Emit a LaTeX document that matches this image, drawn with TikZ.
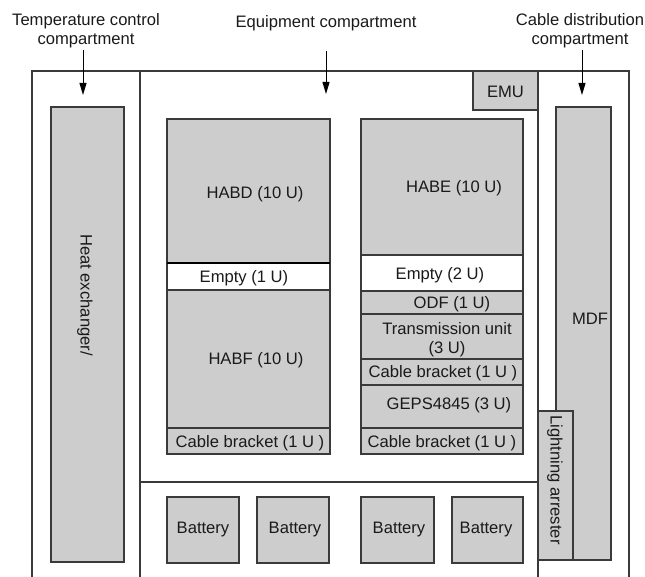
\documentclass[tikz,border=0pt]{standalone}
\usepackage{fontspec}
\setmainfont{Liberation Sans}
\usetikzlibrary{arrows.meta,fit}
\definecolor{boxfill}{HTML}{CDCDCD}
\definecolor{edge}{HTML}{3A3A3A}
\definecolor{ink}{HTML}{1A1A1A}
\begin{document}
\begin{tikzpicture}[x=1pt,y=-1pt,
  frameline/.style={draw=edge,line width=1.1pt},
  gbox/.style={draw=edge,fill=boxfill,line width=1.1pt,inner sep=0pt,outer sep=0pt},
  wbox/.style={draw=edge,fill=white,line width=1.1pt,inner sep=0pt,outer sep=0pt},
  lbl/.style={inner sep=0pt,text=ink,font=\fontsize{16.6}{19}\selectfont,align=center},
  hlbl/.style={lbl,yshift=-2pt},
  arr/.style={draw=black,line width=1pt,-{Triangle[length=12pt,width=7pt]}}]
\useasboundingbox (0,0) rectangle (645,577);

% cabinet outline and compartment dividers (open at the bottom)
\coordinate (fTL) at (32,71);
\coordinate (fTR) at (629,71);
\coordinate (fBL) at (32,577);
\coordinate (fBR) at (629,577);
\coordinate (d1T) at (140,71);
\coordinate (d1B) at (140,577);
\coordinate (d2T) at (538,71);
\coordinate (d2B) at (538,577);
\draw[frameline] (fBL) -- (fTL) -- (fTR) -- (fBR);
\draw[frameline] (d1T) -- (d1B);
\draw[frameline] (d2T) -- (d2B);
\coordinate (shL) at (140,482);
\coordinate (shR) at (538,482);
\draw[frameline] (shL) -- (shR);

% compartment titles with arrows
\node[hlbl] (tcc) at (86,29) {Temperature control\\compartment};
\node[hlbl] (eqc) at (326,21) {Equipment compartment};
\node[hlbl] (cdc) at (580,29) {Cable distribution\\compartment};
\coordinate (tccA) at (83,50);  \coordinate (tccB) at (83,95);
\coordinate (eqcA) at (326,51); \coordinate (eqcB) at (326,94);
\coordinate (cdcA) at (582,50); \coordinate (cdcB) at (582,95);
\draw[arr] (tccA) -- (tccB);
\draw[arr] (eqcA) -- (eqcB);
\draw[arr] (cdcA) -- (cdcB);

% temperature control compartment
\node[gbox,fit={(51,107) (124,562)}] (hex) {};
\node[lbl,rotate=-90] (hexT) at (85,295) {Heat exchanger/};

% EMU
\node[gbox,fit={(473,71) (538,110)}] (emu) {};
\node[hlbl] (emuT) at (505.5,90) {EMU};

% left rack
\node[gbox,fit={(167,119) (330,263)}] (habd) {};
\node[wbox,fit={(167,263) (330,290)}] (emp1) {};
\node[gbox,fit={(167,290) (330,428)}] (habf) {};
\node[gbox,fit={(167,428) (330,454)}] (cbl1) {};
\draw[line width=2pt,black] (habd.south west) -- (habd.south east);
\node[hlbl] (habdT) at (255,192) {HABD (10 U)};
\node[hlbl] (emp1T) at (244,276) {Empty (1 U)};
\node[hlbl] (habfT) at (256,358) {HABF (10 U)};
\node[hlbl] (cbl1T) at (250,441) {Cable bracket (1 U )};

% right rack
\node[gbox,fit={(361,119) (523,255)}] (habe) {};
\node[wbox,fit={(361,255) (523,291)}] (emp2) {};
\node[gbox,fit={(361,291) (523,314)}] (odf) {};
\node[gbox,fit={(361,314) (523,359)}] (trn) {};
\node[gbox,fit={(361,359) (523,385)}] (cbl2) {};
\node[gbox,fit={(361,385) (523,428)}] (geps) {};
\node[gbox,fit={(361,428) (523,454)}] (cbl3) {};
\node[hlbl] (habeT) at (454,186) {HABE (10 U)};
\node[hlbl] (emp2T) at (440,273) {Empty (2 U)};
\node[hlbl] (odfT) at (452,302) {ODF (1 U)};
\node[hlbl] (trnT) at (447,338) {Transmission unit\\(3 U)};
\node[hlbl] (cbl2T) at (443,371) {Cable bracket (1 U )};
\node[hlbl] (gepsT) at (449,403) {GEPS4845 (3 U)};
\node[hlbl] (cbl3T) at (442,441) {Cable bracket (1 U )};

% batteries
\node[gbox,fit={(167,497) (239,563)}] (bat1) {};
\node[gbox,fit={(257,497) (329,563)}] (bat2) {};
\node[gbox,fit={(361,497) (434,563)}] (bat3) {};
\node[gbox,fit={(452,497) (523,563)}] (bat4) {};
\node[hlbl] (bat1T) at (203,528) {Battery};
\node[hlbl] (bat2T) at (295,528) {Battery};
\node[hlbl] (bat3T) at (399,528) {Battery};
\node[hlbl] (bat4T) at (486,528) {Battery};

% cable distribution compartment
\node[gbox,fit={(556,107) (611,560)}] (mdf) {};
\node[hlbl] (mdfT) at (590,317) {MDF};
\node[gbox,fit={(538,411) (573,560)}] (lar) {};
\node[lbl,rotate=-90] (larT) at (555,480) {Lightning arrester};
\end{tikzpicture}
\end{document}
